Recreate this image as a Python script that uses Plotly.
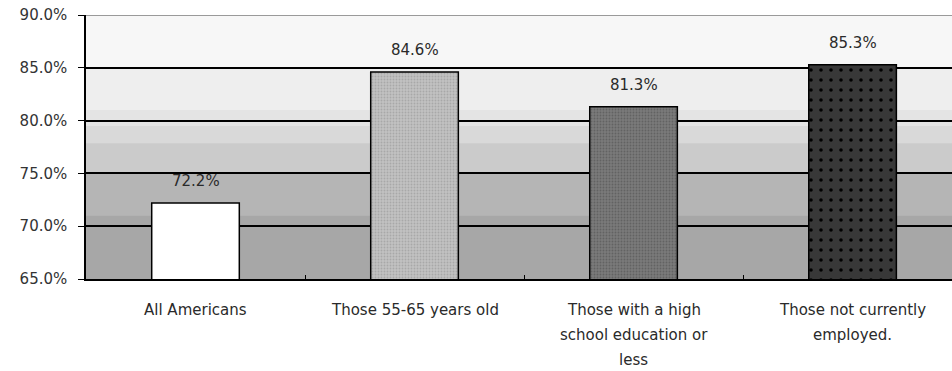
import plotly.graph_objects as go

categories = ["All Americans", "Those 55-65 years old",
              "Those with a high school education or less",
              "Those not currently employed."]
category_lines = [["All Americans"], ["Those 55-65 years old"],
                  ["Those with a high", "school education or", "less"],
                  ["Those not currently", "employed."]]
values = [72.2, 84.6, 81.3, 85.3]
value_labels = ["72.2%", "84.6%", "81.3%", "85.3%"]
y_ticks = [65, 70, 75, 80, 85, 90]
y_tick_labels = ["65.0%", "70.0%", "75.0%", "80.0%", "85.0%", "90.0%"]

bar_colors = ["#ffffff", "#c2c2c2", "#7a7a7a", "#383838"]
pattern_shapes = ["", ".", ".", "."]
pattern_fg = ["#ffffff", "#a8a8a8", "#626262", "#000000"]
pattern_size = [8, 3, 3, 10]
pattern_solidity = [0.2, 0.3, 0.3, 0.1]

FONT = "DejaVu Sans"
TXT = "#2a2a2a"

fig = go.Figure()
for i in range(len(categories)):
    fig.add_trace(go.Bar(
        x=[i], y=[values[i]],
        width=0.40,
        marker=dict(color=bar_colors[i],
                    line=dict(color="#000000", width=1.5),
                    pattern=dict(shape=pattern_shapes[i], fgcolor=pattern_fg[i],
                                 bgcolor=bar_colors[i], fgopacity=1,
                                 size=pattern_size[i],
                                 solidity=pattern_solidity[i],
                                 fillmode="replace")),
        hoverinfo="skip", showlegend=False,
    ))

# value labels
for i, (v, t) in enumerate(zip(values, value_labels)):
    fig.add_annotation(x=i, y=v, xref="x", yref="y", text=t, showarrow=False,
                       yanchor="middle", yshift=22,
                       font=dict(family=FONT, size=15, color=TXT))

# category labels (multi-line, wide line spacing)
for i, lines in enumerate(category_lines):
    for j, line in enumerate(lines):
        fig.add_annotation(x=i, y=0, xref="x", yref="paper", text=line,
                           showarrow=False, yanchor="middle",
                           yshift=-(31 + 25 * j),
                           font=dict(family=FONT, size=15, color=TXT))

# background bands (gradient-like)
bands = [(85, 90, "#f7f7f7"), (81, 85, "#eeeeee"), (79.5, 81, "#e4e4e4"),
         (77.8, 79.5, "#d9d9d9"), (75, 77.8, "#cbcbcb"), (71, 75, "#b5b5b5"),
         (65, 71, "#a7a7a7")]
for y0, y1, c in bands:
    fig.add_shape(type="rect", xref="paper", yref="y", x0=0, x1=1, y0=y0, y1=y1,
                  fillcolor=c, line=dict(width=0), layer="below")
# lighter top border line
fig.add_shape(type="line", xref="paper", yref="y", x0=0, x1=1, y0=90, y1=90,
              line=dict(color="#9a9a9a", width=2), layer="above")

fig.update_layout(
    width=952, height=371,
    margin=dict(l=86, r=0, t=15, b=92),
    paper_bgcolor="#ffffff", plot_bgcolor="#bbbbbb",
    barmode="overlay",
    xaxis=dict(range=[-0.5, 3.454], showgrid=False, zeroline=False,
               tickvals=[0.5, 1.5, 2.5], ticktext=["", "", ""],
               ticks="inside", ticklen=4, tickcolor="#000000",
               showline=True, linecolor="#000000", linewidth=1.5,
               showticklabels=False),
    yaxis=dict(range=[65, 90], tickvals=y_ticks, ticktext=y_tick_labels,
               showgrid=True, gridcolor="#000000", gridwidth=1.5,
               zeroline=False, showline=True, linecolor="#000000", linewidth=1.5,
               ticks="outside", ticklen=6, tickcolor="#000000",
               ticklabelstandoff=8,
               tickfont=dict(family=FONT, size=15, color="#333333")),
)

fig.write_html("out.html")
